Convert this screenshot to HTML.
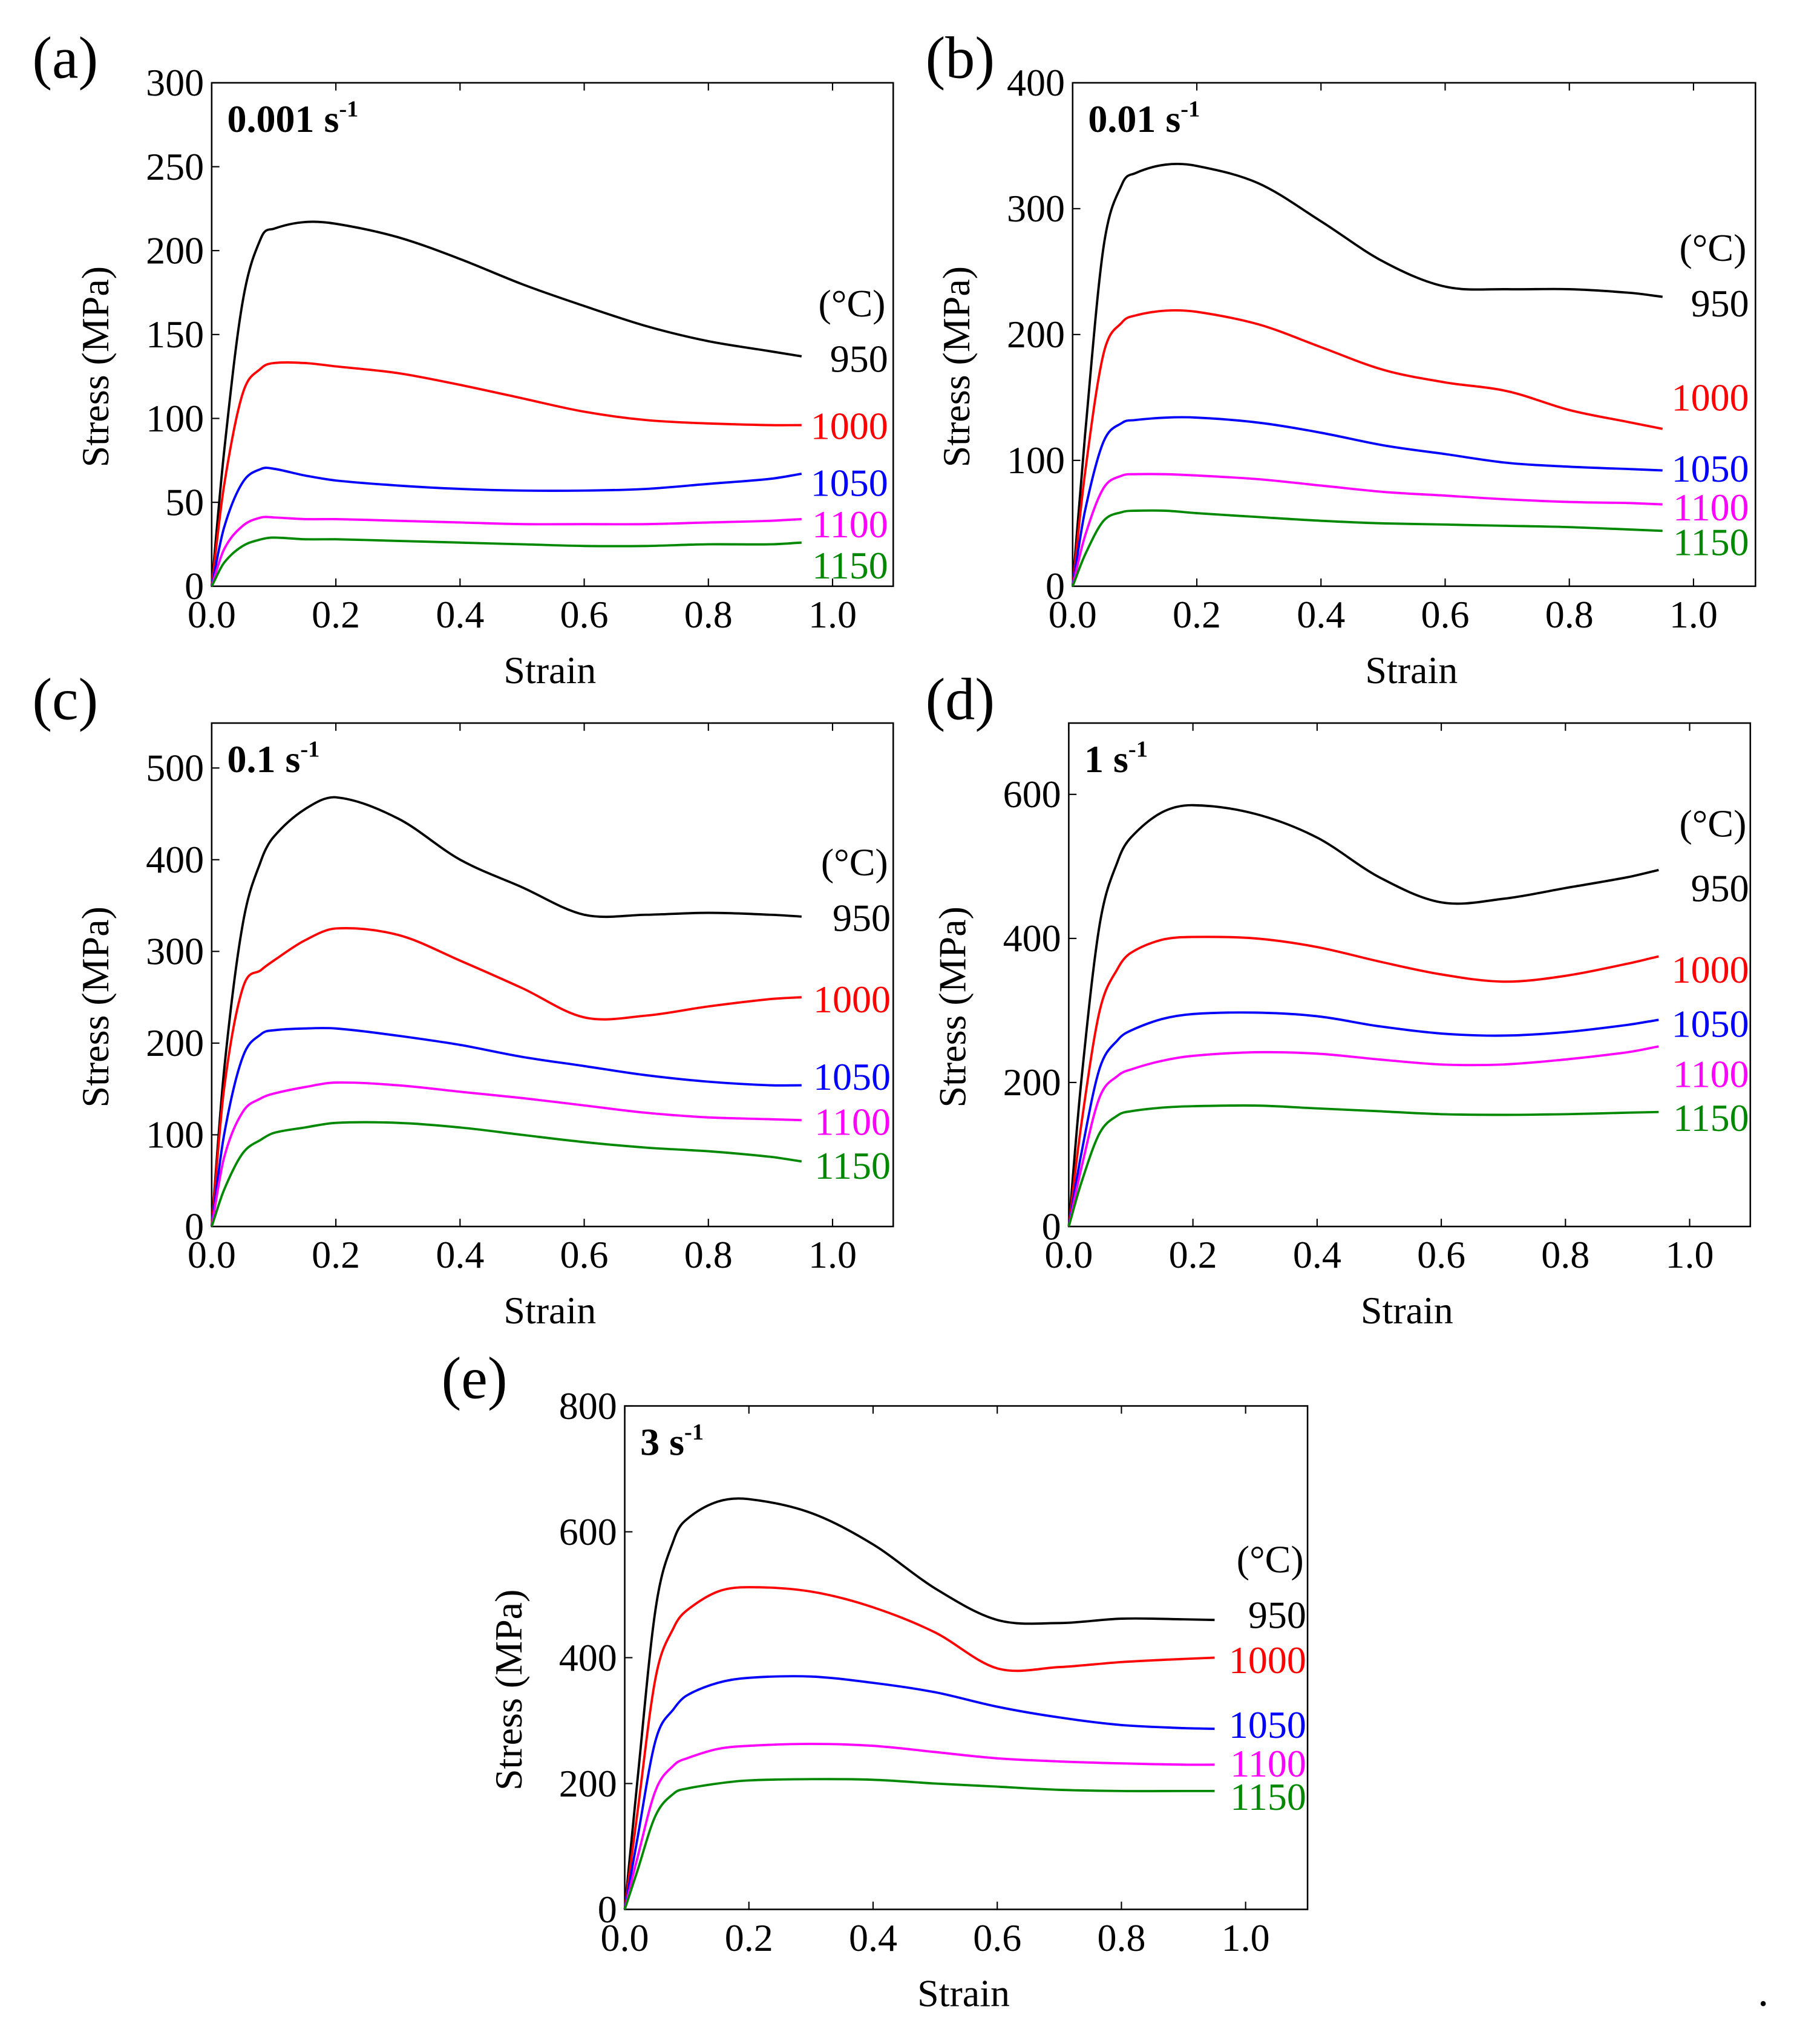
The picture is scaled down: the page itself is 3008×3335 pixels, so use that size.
<!DOCTYPE html>
<html><head><meta charset="utf-8"><style>
html,body{margin:0;padding:0;background:#fff;}
svg{display:block;font-family:"Liberation Serif",serif;}
</style></head><body>
<svg id="fig" width="3008" height="3335" viewBox="0 0 1410 1563" xmlns="http://www.w3.org/2000/svg"></svg>
<script>
const strains=[0,0.02,0.05,0.08,0.1,0.15,0.2,0.3,0.4,0.5,0.6,0.7,0.8,0.9,0.95];
const temps=["950","1000","1050","1100","1150"];
const colors=["#000","#f00","#00f","#f0f","#080"];
const xTicks=[0,0.2,0.4,0.6,0.8,1.0];
const xTickLabels=["0.0","0.2","0.4","0.6","0.8","1.0"];
const aValues=[[0,80,170,208,213,217,216,208,195,180,167,155,146,140,137],[0,60,115,130,133,133,131,127,120,112,104,99,97,96,96],[0,35,62,70,70,66,63,60,58,57,57,58,61,64,67],[0,22,36,41,41,40,40,39,38,37,37,37,38,39,40],[0,14,24,28,29,28,28,27,26,25,24,24,25,25,26]];
const bValues=[[0,120,270,320,328,335,334,320,290,258,238,236,236,233,230],[0,90,185,210,215,219,218,208,190,172,162,155,140,130,125],[0,60,115,130,132,134,134,130,122,112,105,98,95,93,92],[0,40,78,88,89,89,88,85,80,75,72,69,67,66,65],[0,25,52,59,60,60,58,55,52,50,49,48,47,45,44]];
const cValues=[[0,170,330,400,425,455,468,445,400,370,340,340,342,340,338],[0,150,260,280,290,312,325,318,290,260,228,230,240,248,250],[0,100,185,210,214,216,216,208,198,185,175,165,158,154,154],[0,75,125,140,145,152,157,154,147,140,132,124,119,117,116],[0,40,80,95,102,108,113,113,108,100,92,86,82,76,71]];
const dValues=[[0,200,420,510,540,575,585,573,540,485,450,455,470,485,495],[0,140,300,360,380,398,402,400,388,368,350,340,348,365,375],[0,100,220,260,272,288,295,297,292,278,268,265,270,280,287],[0,80,180,210,218,230,237,242,240,232,225,225,232,242,250],[0,60,130,155,160,165,167,168,164,160,156,155,156,158,159]];
const eValues=[[0,200,480,590,620,648,652,630,580,510,460,455,462,461,460],[0,150,370,450,475,505,512,505,480,440,383,385,393,398,400],[0,110,270,320,340,360,368,370,360,345,322,305,293,288,287],[0,80,190,230,240,255,260,263,260,250,240,235,232,230,230],[0,60,150,185,192,200,205,207,206,200,195,190,188,188,188]];
const aYTicks=[0,50,100,150,200,250,300];
const bYTicks=[0,100,200,300,400];
const cYTicks=[0,100,200,300,400,500];
const dYTicks=[0,200,400,600];
const eYTicks=[0,200,400,600,800];

const panels=[
 {id:"a",L:164,R:692,T:64,B:454,x1:645,ymax:300,yt:aYTicks,vals:aValues,rate:"0.001",letterX:25,letterY:55,tempX:688,tempY:[278,330,374,406,438],cY:235},
 {id:"b",L:831,R:1360,T:64,B:454,x1:1312,ymax:400,yt:bYTicks,vals:bValues,rate:"0.01",letterX:717,letterY:55,tempX:1355,tempY:[235,308,363,393,420],cY:192},
 {id:"c",L:164,R:692,T:560,B:950,x1:645,ymax:549,yt:cYTicks,vals:cValues,rate:"0.1",letterX:25,letterY:552,tempX:690,tempY:[711,774,834,869,903],cY:668},
 {id:"d",L:828,R:1356,T:560,B:950,x1:1309,ymax:699,yt:dYTicks,vals:dValues,rate:"1",letterX:717,letterY:552,tempX:1355,tempY:[688,751,793,832,866],cY:638},
 {id:"e",L:484,R:1013,T:1089,B:1479,x1:965,ymax:800,yt:eYTicks,vals:eValues,rate:"3",letterX:342,letterY:1078,tempX:1012,tempY:[1251,1286,1336,1366,1392],cY:1208}
];
const NS="http://www.w3.org/2000/svg";
const svg=document.getElementById("fig");
function mk(tag,attrs,parent,text){const e=document.createElementNS(NS,tag);for(const k in attrs)e.setAttribute(k,attrs[k]);if(text!==undefined)e.textContent=text;(parent||svg).appendChild(e);return e;}
function smooth(pts){
 const n=pts.length,m=[];
 for(let i=0;i<n;i++){
  if(i===0)m.push((pts[1][1]-pts[0][1])/(pts[1][0]-pts[0][0]));
  else if(i===n-1)m.push((pts[n-1][1]-pts[n-2][1])/(pts[n-1][0]-pts[n-2][0]));
  else m.push((pts[i+1][1]-pts[i-1][1])/(pts[i+1][0]-pts[i-1][0]));
 }
 let d="M"+pts[0][0].toFixed(1)+","+pts[0][1].toFixed(1);
 for(let i=0;i<n-1;i++){
  const dx=(pts[i+1][0]-pts[i][0])/3;
  const c1x=pts[i][0]+dx,c1y=pts[i][1]+m[i]*dx,c2x=pts[i+1][0]-dx,c2y=pts[i+1][1]-m[i+1]*dx;
  d+=" C"+c1x.toFixed(1)+","+c1y.toFixed(1)+" "+c2x.toFixed(1)+","+c2y.toFixed(1)+" "+pts[i+1][0].toFixed(1)+","+pts[i+1][1].toFixed(1);
 }
 return d;}
panels.forEach(p=>{
 const g=mk("g",{});
 
 
 const xs=v=>p.L+v*(p.x1-p.L);
 const ys=v=>p.B-v*(p.B-p.T)/p.ymax;
 const fr=mk("rect",{x:p.L,y:p.T,width:p.R-p.L,height:p.B-p.T,fill:"none",stroke:"#000","stroke-width":1.2},g);
 
 
 xTicks.forEach((t,i)=>{
  const x=xs(t);
  mk("line",{x1:x,y1:p.B,x2:x,y2:p.B-6,stroke:"#000"},g);
  mk("line",{x1:x,y1:p.T,x2:x,y2:p.T+6,stroke:"#000"},g);
  const tl=mk("text",{x:x,y:p.B+32,"font-size":30,"text-anchor":"middle"},g,xTickLabels[i]);
  
  
 });
 p.yt.forEach(t=>{
  const y=ys(t);
  mk("line",{x1:p.L,y1:y,x2:p.L+6,y2:y,stroke:"#000"},g);
  const tl=mk("text",{x:p.L-6,y:y+10,"font-size":30,"text-anchor":"end"},g,String(t));
  
  
 });
 const xt=mk("text",{x:(p.L+p.R)/2-2,y:p.B+75,"font-size":30,"text-anchor":"middle"},g,"Strain");
 
 
 const cy=(p.T+p.B)/2+25;
 const yt=mk("text",{x:0,y:0,"font-size":30,"text-anchor":"middle",transform:"translate("+(p.L-80)+","+cy+") rotate(-90)"},g,"Stress (MPa)");
 
 
 const lt=mk("text",{x:p.letterX,y:p.letterY+5,"font-size":46},g,"("+p.id+")");
 
 
 const rt=mk("text",{x:p.L+12,y:p.T+38,"font-size":30,"font-weight":"bold"},g);
 
 
 mk("tspan",{},rt,p.rate+" s");
 mk("tspan",{"font-size":18,dy:-12},rt,"-1");
 const cl=mk("text",{x:p.tempX-2,y:p.cY+10,"font-size":30,"text-anchor":"end"},g,"(°C)");
 
 
 p.vals.forEach((series,si)=>{
  const pts=series.map((v,i)=>[xs(strains[i]),ys(v)]);
  const path=mk("path",{d:smooth(pts),fill:"none",stroke:colors[si],"stroke-width":1.8},g);
  
  
  const lbl=mk("text",{x:p.tempX,y:p.tempY[si]+10,"font-size":30,"text-anchor":"end",fill:colors[si]},g,temps[si]);
  
  
 });
});
const dot=mk("circle",{cx:1366,cy:1552,r:2,fill:"#000"});


</script>
</body></html>
